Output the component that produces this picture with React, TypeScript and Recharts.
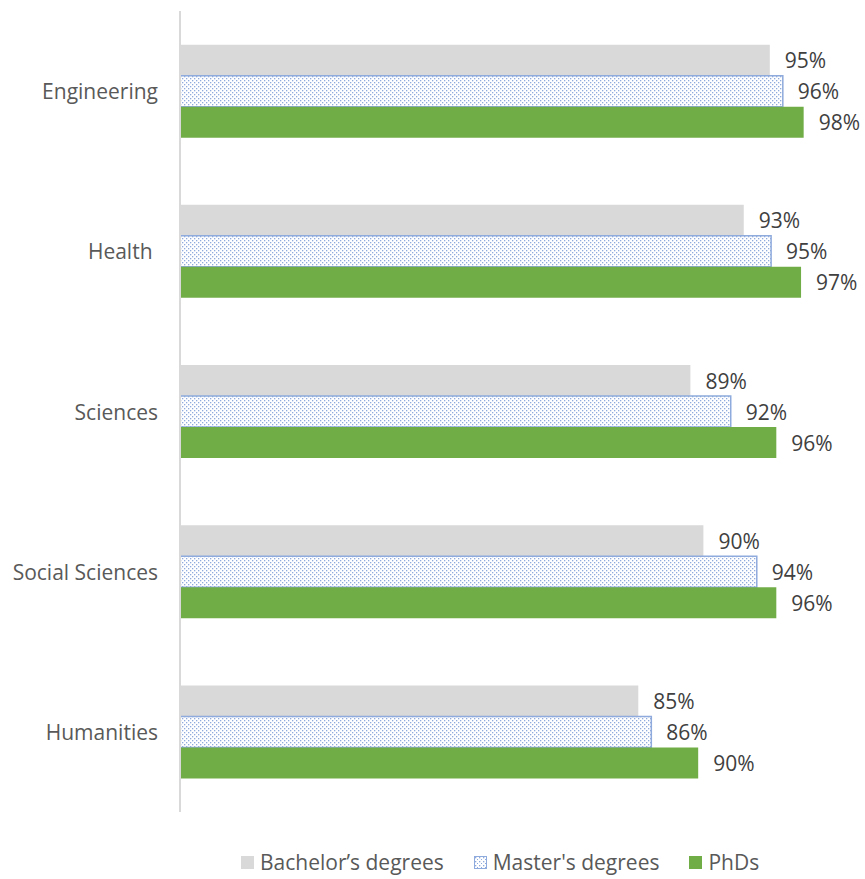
import React from 'react';
import { BarChart, Bar, XAxis, YAxis } from 'recharts';

// categories, top to bottom
const CATEGORIES = ['Engineering', 'Health ', 'Sciences', 'Social Sciences', 'Humanities'];

// bar lengths (percent)
const BACHELOR = [95.3, 93.3, 89.2, 90.2, 85.2];
const MASTER = [96.3, 95.4, 92.3, 94.3, 86.2];
const PHD = [97.9, 97.7, 95.8, 95.8, 89.8];

// printed data labels
const BACHELOR_LABELS = ['95%', '93%', '89%', '90%', '85%'];
const MASTER_LABELS = ['96%', '95%', '92%', '94%', '86%'];
const PHD_LABELS = ['98%', '97%', '96%', '96%', '90%'];

const SERIES = ['Bachelor’s degrees', "Master's degrees", 'PhDs'];

const FONT = '"Open Sans", sans-serif';
const COLORS = {
  bachelor: '#d9d9d9',
  master: '#8faadc',
  phd: '#70ad47',
  text: '#595959',
  label: '#404040',
};

const data = CATEGORIES.map((name, i) => ({
  name,
  bachelor: BACHELOR[i],
  master: MASTER[i],
  phd: PHD[i],
}));

const makeLabel = (labels: string[]) => (props: any) => {
  const { x, y, width, height, index } = props;
  return (
    <text
      x={x + width + 15}
      y={y + height / 2}
      fill={COLORS.label}
      fontSize={21}
      fontFamily={FONT}
      dominantBaseline="central"
    >
      {labels[index]}
    </text>
  );
};

const CategoryTick = ({ x, y, payload }: any) => (
  <text
    x={x}
    y={y}
    textAnchor="end"
    dominantBaseline="central"
    fill={COLORS.text}
    fontSize={21}
    fontFamily={FONT}
    style={{ whiteSpace: 'pre' }}
  >
    {payload.value}
  </text>
);

const LegendItem = ({ label, swatch, last }: { label: string; swatch: React.ReactNode; last?: boolean }) => (
  <div style={{ display: 'flex', alignItems: 'center', marginRight: last ? 0 : 30 }}>
    {swatch}
    <span style={{ marginLeft: 6 }}>{label}</span>
  </div>
);

export default function App() {
  return (
    <div style={{ position: 'absolute', left: 0, top: 0, width: 865, height: 879, background: '#fff' }}>
      <BarChart
        width={865}
        height={879}
        data={data}
        layout="vertical"
        margin={{ top: 11, right: 34, bottom: 67, left: 0 }}
        barCategoryGap="21%"
        barGap={0}
      >
        <defs>
          <pattern id="dots" width="4" height="4" patternUnits="userSpaceOnUse">
            <rect width="4" height="4" fill="#ffffff" />
            <rect x="0" y="0" width="1.3" height="1.3" fill={COLORS.master} />
            <rect x="2" y="2" width="1.3" height="1.3" fill={COLORS.master} />
          </pattern>
        </defs>
        <XAxis type="number" domain={[50, 100]} hide />
        <YAxis
          type="category"
          dataKey="name"
          width={180}
          tickLine={false}
          tickSize={0}
          tickMargin={22}
          axisLine={{ stroke: '#d9d9d9', strokeWidth: 2 }}
          tick={<CategoryTick />}
        />
        <Bar dataKey="bachelor" fill={COLORS.bachelor} isAnimationActive={false} label={makeLabel(BACHELOR_LABELS)} />
        <Bar
          dataKey="master"
          fill="url(#dots)"
          stroke={COLORS.master}
          strokeWidth={1.5}
          isAnimationActive={false}
          label={makeLabel(MASTER_LABELS)}
        />
        <Bar dataKey="phd" fill={COLORS.phd} isAnimationActive={false} label={makeLabel(PHD_LABELS)} />
      </BarChart>
      <div
        style={{
          position: 'absolute',
          left: 241,
          top: 847,
          display: 'flex',
          fontFamily: FONT,
          fontSize: 21,
          color: COLORS.text,
          lineHeight: '30px',
        }}
      >
        <LegendItem
          label={SERIES[0]}
          swatch={<span style={{ width: 13, height: 13, background: COLORS.bachelor, display: 'inline-block' }} />}
        />
        <LegendItem
          label={SERIES[1]}
          swatch={
            <svg width={13} height={13}>
              <defs>
                <pattern id="dots-legend" width="4" height="4" patternUnits="userSpaceOnUse">
                  <rect width="4" height="4" fill="#ffffff" />
                  <rect x="1" y="1" width="1.3" height="1.3" fill={COLORS.master} />
                  <rect x="3" y="3" width="1.3" height="1.3" fill={COLORS.master} />
                </pattern>
              </defs>
              <rect x={0.5} y={0.5} width={12} height={12} fill="url(#dots-legend)" stroke={COLORS.master} />
            </svg>
          }
        />
        <LegendItem
          last
          label={SERIES[2]}
          swatch={<span style={{ width: 13, height: 13, background: COLORS.phd, display: 'inline-block' }} />}
        />
      </div>
    </div>
  );
}
